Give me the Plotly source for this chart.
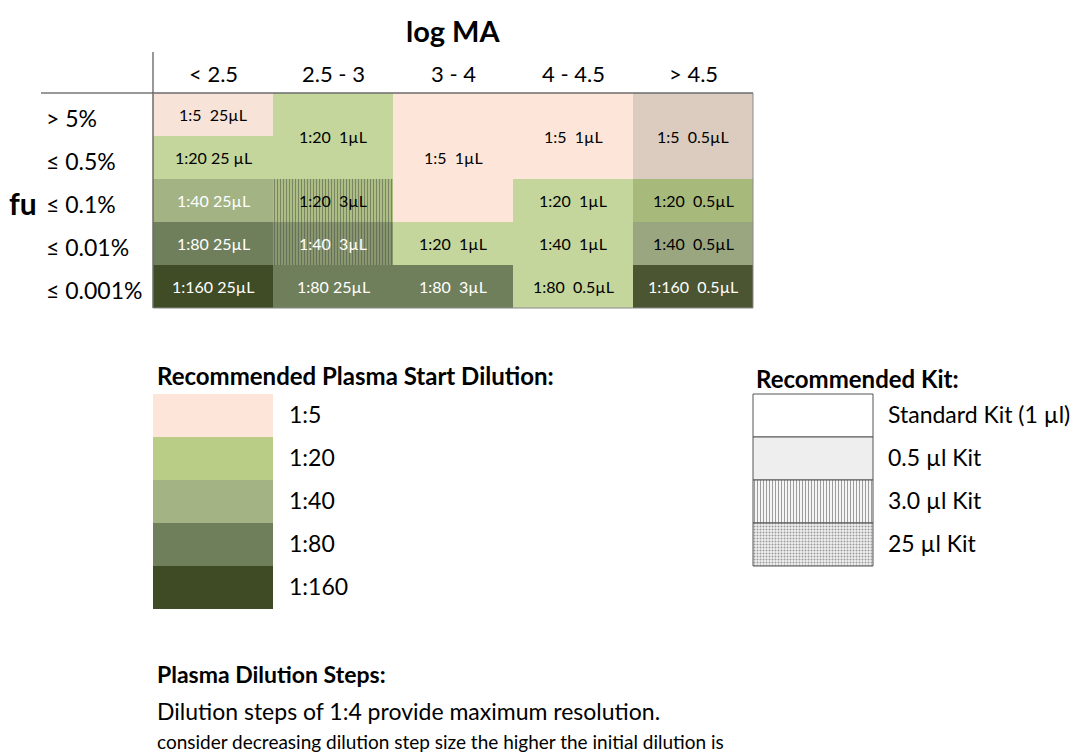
import plotly.graph_objects as go

# ---------------- data ----------------
col_labels = ["< 2.5", "2.5 - 3", "3 - 4", "4 - 4.5", "> 4.5"]
row_labels = ["> 5%", "≤ 0.5%", "≤ 0.1%", "≤ 0.01%", "≤ 0.001%"]

cell_col = [0, 0, 0, 0, 0, 1, 1, 1, 1, 2, 2, 2, 3, 3, 3, 3, 4, 4, 4, 4]
cell_row = [0, 1, 2, 3, 4, 0, 2, 3, 4, 0, 3, 4, 0, 2, 3, 4, 0, 2, 3, 4]
cell_span = [1, 1, 1, 1, 1, 2, 1, 1, 1, 3, 1, 1, 2, 1, 1, 1, 2, 1, 1, 1]
cell_text = ["1:5  25µL", "1:20 25 µL", "1:40 25µL", "1:80 25µL", "1:160 25µL",
             "1:20  1µL", "1:20  3µL", "1:40  3µL", "1:80 25µL",
             "1:5  1µL", "1:20  1µL", "1:80  3µL",
             "1:5  1µL", "1:20  1µL", "1:40  1µL", "1:80  0.5µL",
             "1:5  0.5µL", "1:20  0.5µL", "1:40  0.5µL", "1:160  0.5µL"]

dilution_labels = ["1:5", "1:20", "1:40", "1:80", "1:160"]
kit_labels = ["Standard Kit (1 µl)", "0.5 µl Kit", "3.0 µl Kit", "25 µl Kit"]

# ---------------- styles ----------------
cell_fill = ["#f8e3d8", "#c4d69b", "#a3b384", "#6f7f5c", "#3f4c26",
             "#c4d69b", "#b2c487", "#8c9b70", "#6f7f5c",
             "#fde5d9", "#c4d69b", "#6f7f5c",
             "#fde5d9", "#c4d69b", "#c4d69b", "#c4d69b",
             "#dccbbf", "#a7b97b", "#9aa680", "#4b5532"]
cell_pattern = ["", "", "", "", "",
                "", "|", "|", "",
                "", "", "",
                "", "", "", "",
                "", "", "", ""]
cell_pattern_fg = ["rgba(0,0,0,0)"] * 5 + [
    "rgba(0,0,0,0)", "rgba(60,72,30,0.55)", "rgba(60,72,30,0.45)", "rgba(0,0,0,0)"] + \
    ["rgba(0,0,0,0)"] * 11
cell_font = ["black", "black", "white", "white", "white",
             "black", "black", "white", "white",
             "black", "black", "white",
             "black", "black", "black", "black",
             "black", "black", "black", "white"]
dilution_fill = ["#fde5d9", "#b9cd86", "#a3b384", "#6f7f5c", "#3e4b24"]
kit_fill = ["#ffffff", "#eeeeee", "#f5f5f5", "#f0f0f0"]
kit_pattern = ["", "", "|", "."]
kit_pattern_fg = ["rgba(0,0,0,0)", "rgba(0,0,0,0)", "rgba(0,0,0,0.07)", "rgba(0,0,0,0.06)"]

FONT = "Lato, 'Open Sans', sans-serif"

# pixel geometry -> axis units (1 column = 120 px, 1 row = 43 px)
W, H = 1074, 754
X0, Y0, CW, RH = 153, 93, 120, 43
x_range = [-X0 / CW, (W - X0) / CW]
y_range = [(H - Y0) / RH, -Y0 / RH]


def px_x(p):
    return (p - X0) / CW


def px_y(p):
    return (p - Y0) / RH


fig = go.Figure()

# grid cells
fig.add_trace(go.Bar(
    x=[c + 0.5 for c in cell_col], base=cell_row, y=cell_span, width=1,
    marker=dict(color=cell_fill, line=dict(width=0),
                pattern=dict(shape=cell_pattern, fgcolor=cell_pattern_fg,
                             solidity=0.4, size=3)),
    hoverinfo="skip", showlegend=False))

# dilution legend swatches
leg_row0 = 7
fig.add_trace(go.Bar(
    x=[0.5] * len(dilution_labels),
    base=[leg_row0 + i for i in range(len(dilution_labels))],
    y=[1] * len(dilution_labels), width=1,
    marker=dict(color=dilution_fill, line=dict(width=0)),
    hoverinfo="skip", showlegend=False))

# kit legend boxes
fig.add_trace(go.Bar(
    x=[5.5] * len(kit_labels),
    base=[leg_row0 + i for i in range(len(kit_labels))],
    y=[1] * len(kit_labels), width=1,
    marker=dict(color=kit_fill, line=dict(width=1, color="#555555"),
                pattern=dict(shape=kit_pattern, fgcolor=kit_pattern_fg,
                             solidity=0.35, size=3)),
    hoverinfo="skip", showlegend=False))

ann = []
# cell texts
for c, r, s, t, fc in zip(cell_col, cell_row, cell_span, cell_text, cell_font):
    ann.append(dict(x=c + 0.5, y=r + s / 2, text=t, showarrow=False,
                    font=dict(size=16, color=fc, family=FONT),
                    xanchor="center", yanchor="middle"))
# column headers
for i, lab in enumerate(col_labels):
    ann.append(dict(x=i + 0.5, y=px_y(73), text=lab, showarrow=False,
                    font=dict(size=22, color="black", family=FONT)))
# row labels
for i, lab in enumerate(row_labels):
    ann.append(dict(x=px_x(44), y=i + 0.58, text=lab, showarrow=False,
                    xanchor="left", font=dict(size=23, color="black", family=FONT)))
ann.append(dict(x=2.5, y=px_y(30), text="<b>log MA</b>", showarrow=False,
                font=dict(size=29, color="black", family=FONT)))
ann.append(dict(x=px_x(7), y=px_y(203), text="<b>fu</b>", showarrow=False,
                xanchor="left", font=dict(size=30, color="black", family=FONT)))

# legend titles and labels
ann.append(dict(x=px_x(155), y=px_y(375), text="<b>Recommended Plasma Start Dilution:</b>",
                showarrow=False, xanchor="left",
                font=dict(size=24, color="black", family=FONT)))
for i, lab in enumerate(dilution_labels):
    ann.append(dict(x=px_x(287), y=leg_row0 + i + 0.47, text=lab, showarrow=False,
                    xanchor="left", font=dict(size=23, color="black", family=FONT)))
ann.append(dict(x=px_x(754), y=px_y(378), text="<b>Recommended Kit:</b>",
                showarrow=False, xanchor="left",
                font=dict(size=24, color="black", family=FONT)))
for i, lab in enumerate(kit_labels):
    ann.append(dict(x=px_x(886), y=leg_row0 + i + 0.47, text=lab, showarrow=False,
                    xanchor="left", font=dict(size=23, color="black", family=FONT)))

# bottom notes
ann.append(dict(x=px_x(155), y=px_y(674), text="<b>Plasma Dilution Steps:</b>",
                showarrow=False, xanchor="left",
                font=dict(size=23, color="black", family=FONT)))
ann.append(dict(x=px_x(155), y=px_y(711), text="Dilution steps of 1:4 provide maximum resolution.",
                showarrow=False, xanchor="left",
                font=dict(size=23, color="black", family=FONT)))
ann.append(dict(x=px_x(155), y=px_y(741),
                text="consider decreasing dilution step size the higher the initial dilution is",
                showarrow=False, xanchor="left",
                font=dict(size=19, color="black", family=FONT)))

n_cols, n_rows = len(col_labels), len(row_labels)
shapes = [
    dict(type="line", x0=0, x1=0, y0=px_y(52), y1=n_rows, xref="x", yref="y",
         line=dict(color="#333333", width=1)),
    dict(type="line", x0=px_x(41), x1=n_cols, y0=0, y1=0, xref="x", yref="y",
         line=dict(color="#333333", width=1)),
    dict(type="rect", x0=0, x1=n_cols, y0=0, y1=n_rows, xref="x", yref="y",
         line=dict(color="#888888", width=1)),
]

fig.update_layout(
    width=W, height=H, margin=dict(l=0, r=0, t=0, b=0),
    paper_bgcolor="white", plot_bgcolor="white",
    barmode="overlay", showlegend=False,
    xaxis=dict(range=x_range, visible=False, fixedrange=True),
    yaxis=dict(range=y_range, visible=False, fixedrange=True),
    annotations=ann, shapes=shapes,
    font=dict(family=FONT),
)

fig.write_html("out.html", config={"displayModeBar": False},
               post_script="document.body.style.margin='0';")
